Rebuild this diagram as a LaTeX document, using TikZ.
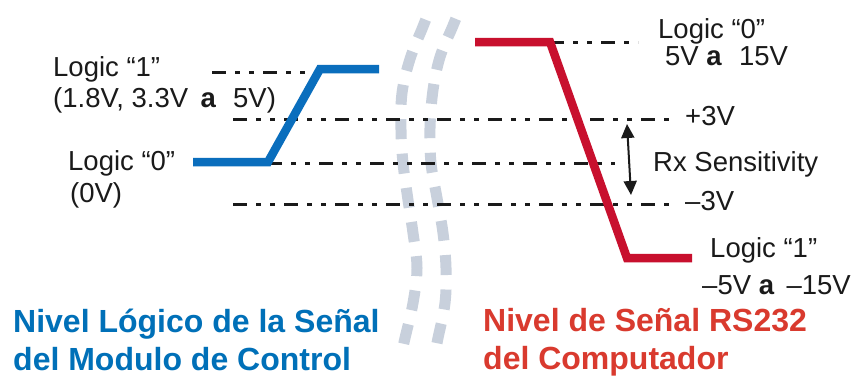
\documentclass[tikz,border=0pt]{standalone}
\usepackage{fontspec}
\setmainfont{Liberation Sans}
\usetikzlibrary{arrows.meta}
\definecolor{sigblue}{HTML}{0A6EBD}
\definecolor{txtblue}{HTML}{0070B8}
\definecolor{sigred}{HTML}{C8102E}
\definecolor{txtred}{HTML}{D93A2E}
\definecolor{breakgray}{RGB}{200,208,220}
\definecolor{ink}{HTML}{1A1A1A}
\newcommand{\wordA}{\textbf{a}\hspace{0.62em}}
\tikzset{
  lbl/.style={anchor=base west, inner sep=0pt, text=ink, font=\fontsize{27.5}{30}\selectfont},
  title/.style={anchor=base west, inner sep=0pt, font=\fontsize{32}{36}\selectfont\bfseries},
  level/.style={draw=ink, line width=3pt, dash pattern=on 14pt off 9pt on 5pt off 9pt on 5pt off 9pt},
  signal/.style={line width=8.5pt, miter limit=10},
  brk/.style={draw=breakgray, line width=11pt, dash pattern=on 20pt off 14.5pt},
  sens/.style={draw=ink, line width=2pt, {Triangle[width=13pt,length=14pt]}-{Triangle[width=13pt,length=14pt]}}
}
\begin{document}
\begin{tikzpicture}[x=1pt,y=-1pt]
\useasboundingbox[fill=white] (0,0) rectangle (856,376);
% break marks
\draw[brk] plot[smooth, tension=0.6] coordinates {(425.7,19.7) (422,29) (410,59) (402,93) (401,130) (403,163) (408,200) (413,233) (417,268) (413,303) (405,338) (402.8,347.7)};
\draw[brk] plot[smooth, tension=0.6] coordinates {(455.8,18.8) (452,28) (440,57) (433,90) (430,128) (431,163) (437,198) (443,233) (446,268) (445,303) (438,338) (436,347.8)};
% coordinates
\coordinate (b0) at (193,162);
\coordinate (b1) at (268,162);
\coordinate (b2) at (320,69);
\coordinate (b3) at (379,69);
\coordinate (r0) at (475,42);
\coordinate (r1) at (550,42);
\coordinate (r2) at (627,258);
\coordinate (r3) at (692,258);
\coordinate (l1s) at (212,72);
\coordinate (l1e) at (320,72);
\coordinate (p3s) at (233,119);
\coordinate (p3e) at (670,119);
\coordinate (mids) at (268,163);
\coordinate (mide) at (615,163);
\coordinate (m3s) at (233,204);
\coordinate (m3e) at (670,204);
\coordinate (r0e) at (638,42);
\coordinate (aT) at (627,124);
\coordinate (aB) at (631,195);
% level lines
\draw[level] (l1s) -- (l1e);
\draw[level] (p3s) -- (p3e);
\draw[level] (mids) -- (mide);
\draw[level] (m3s) -- (m3e);
\draw[level] (r1) -- (r0e);
% signals
\draw[signal, draw=sigblue] (b0) -- (b1) -- (b2) -- (b3);
\draw[signal, draw=sigred] (r0) -- (r1) -- (r2) -- (r3);
% sensitivity arrow
\draw[sens] (aT) -- (aB);
% labels
\node[lbl] (t1a) at (53,76) {Logic “1”};
\node[lbl] (t1b) at (53,107) {(1.8V, 3.3V\hspace{0.45em}\wordA 5V)};
\node[lbl] (t0a) at (68,170) {Logic “0”};
\node[lbl] (t0b) at (70,202) {(0V)};
\node[lbl] (u0a) at (658,38) {Logic “0”};
\node[lbl] (u0b) at (665,65) {5V \wordA 15V};
\node[lbl] (up3) at (685,125) {+3V};
\node[lbl] (rxs) at (653,171) {Rx Sensitivity};
\node[lbl] (um3) at (685,210) {–3V};
\node[lbl] (u1a) at (710,257) {Logic “1”};
\node[lbl] (u1b) at (702,294) {–5V \textbf{a}\hspace{0.45em}–15V};
% titles
\node[title, text=txtblue] (tb1) at (13,332) {Nivel Lógico de la Señal};
\node[title, text=txtblue] (tb2) at (13,370) {del Modulo de Control};
\node[title, text=txtred] (tr1) at (483,331) {Nivel de Señal RS232};
\node[title, text=txtred] (tr2) at (483,369) {del Computador};
\end{tikzpicture}
\end{document}
